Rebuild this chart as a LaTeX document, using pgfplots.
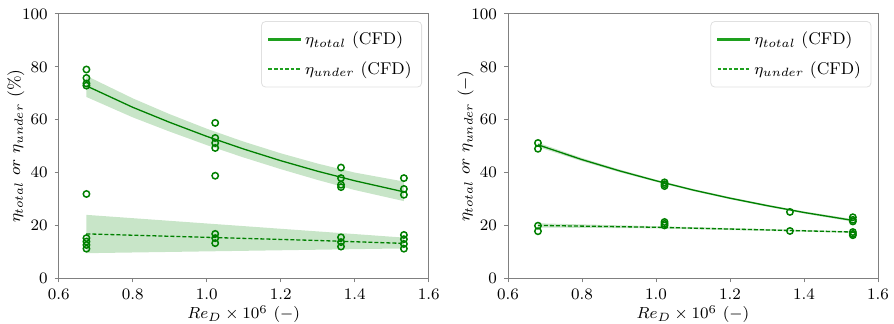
\documentclass[border=0pt]{standalone}
\usepackage{pgfplots}
\pgfplotsset{compat=1.18}
\usepgfplotslibrary{fillbetween}
\definecolor{mplgreen}{RGB}{0,128,0}
\definecolor{leggreen}{RGB}{30,160,30}
\definecolor{bandgreen}{RGB}{200,229,200}
\definecolor{framegray}{RGB}{128,128,128}
\pgfplotsset{
  myaxis/.style={
    scale only axis, width=185pt, height=132.15pt,
    xmin=0.6, xmax=1.6, ymin=0, ymax=100,
    xtick={0.6,0.8,1.0,1.2,1.4,1.6},
    ytick={0,20,40,60,80,100},
    xticklabel style={/pgf/number format/.cd, fixed, fixed zerofill, precision=1},
    font=\fontsize{8.5}{10}\selectfont,
    axis line style={framegray, line width=0.5pt},
    tick style={framegray, line width=0.5pt},
    tick align=outside, major tick length=2pt,
    xtick pos=left, ytick pos=left,
    xlabel={$Re_D \times 10^6$ $(-)$},
    xlabel style={yshift=4pt},
    ylabel shift=-8pt,
    legend style={at={(0.982,0.973)}, anchor=north east, rounded corners=2pt,
      fill=white, font=\fontsize{8.5}{10}\selectfont, row sep=3pt, inner xsep=3pt, inner ysep=3pt},
    every axis legend/.append style={draw=black!12},
    legend cell align=left,
    legend image code/.code={\draw[#1] (0pt,0pt) -- (16pt,0pt);},
  },
  solidimg/.style={legend image code/.code={\fill[leggreen, sharp corners] (0pt,-0.4pt) rectangle (16pt,0.4pt);}},
  pts/.style={only marks, mark=o, mark size=1.6pt, color=mplgreen, mark options={line width=0.75pt}},
}
\begin{document}
\begin{tikzpicture}
% ---------------- left ----------------
\begin{axis}[myaxis, ylabel={$\eta_{total}\ or\ \eta_{under}$ (\%)}]
\addlegendimage{solidimg}
\addlegendentry{$\eta_{total}$ (CFD)}
\addlegendimage{color=leggreen, line width=0.8pt, dash pattern=on 1.8pt off 1pt}
\addlegendentry{$\eta_{under}$ (CFD)}
\addplot[name path=tu, draw=none, forget plot] coordinates {(0.675,76.6)(0.8,68.1)(0.9,62.1)(1.0,56.6)(1.1,51.7)(1.2,47.3)(1.3,43.4)(1.4,40.0)(1.533,36.6)};
\addplot[name path=tl, draw=none, forget plot] coordinates {(0.675,68.6)(0.8,60.9)(0.9,55.5)(1.0,50.4)(1.1,45.7)(1.2,41.3)(1.3,37.2)(1.4,33.4)(1.533,29.2)};
\addplot[bandgreen, forget plot] fill between[of=tu and tl];
\addplot[name path=uu, draw=none, forget plot] coordinates {(0.675,24.0)(1.533,15.4)};
\addplot[name path=ul, draw=none, forget plot] coordinates {(0.675,9.5)(1.533,11.3)};
\addplot[bandgreen, forget plot] fill between[of=uu and ul];
\addplot[mplgreen, line width=0.65pt, forget plot] coordinates {(0.675,72.8)(0.8,64.7)(0.9,59.0)(1.0,53.7)(1.1,48.9)(1.2,44.5)(1.3,40.5)(1.4,36.9)(1.533,32.7)};
\addplot[mplgreen, line width=0.65pt, dash pattern=on 2pt off 1pt, forget plot] coordinates {(0.675,16.8)(1.0,15.5)(1.3,14.3)(1.533,13.2)};
\addplot[pts, forget plot] coordinates {
(0.675,79.0)(0.675,75.8)(0.675,73.7)(0.675,72.9)(0.675,31.9)
(1.023,58.8)(1.023,53.1)(1.023,51.2)(1.023,49.3)(1.023,38.8)
(1.363,41.9)(1.363,37.9)(1.363,35.4)(1.363,34.5)
(1.533,37.9)(1.533,33.8)(1.533,31.6)};
\addplot[pts, forget plot] coordinates {
(0.675,15.2)(0.675,13.9)(0.675,12.6)(0.675,11.2)
(1.023,16.8)(1.023,15.2)(1.023,13.3)
(1.363,15.5)(1.363,13.7)(1.363,12.0)
(1.533,16.4)(1.533,14.8)(1.533,13.0)(1.533,11.2)};
\end{axis}
% ---------------- right ----------------
\begin{axis}[myaxis, at={(224.65pt,0pt)}, ylabel={$\eta_{total}\ or\ \eta_{under}$ $(-)$}]
\addlegendimage{solidimg}
\addlegendentry{$\eta_{total}$ (CFD)}
\addlegendimage{color=leggreen, line width=0.8pt, dash pattern=on 1.8pt off 1pt}
\addlegendentry{$\eta_{under}$ (CFD)}
\addplot[name path=tu, draw=none, forget plot] coordinates {(0.681,51.3)(0.8,45.5)(0.9,41.2)(1.0,37.3)(1.1,33.8)(1.2,30.7)(1.3,27.9)(1.4,25.3)(1.532,22.4)};
\addplot[name path=tl, draw=none, forget plot] coordinates {(0.681,49.7)(0.8,44.3)(0.9,40.2)(1.0,36.5)(1.1,33.0)(1.2,29.9)(1.3,27.1)(1.4,24.5)(1.532,21.4)};
\addplot[bandgreen, forget plot] fill between[of=tu and tl];
\addplot[name path=uu, draw=none, forget plot] coordinates {(0.681,20.8)(1.0,19.7)(1.532,17.8)};
\addplot[name path=ul, draw=none, forget plot] coordinates {(0.681,19.2)(1.0,18.9)(1.532,17.2)};
\addplot[bandgreen, forget plot] fill between[of=uu and ul];
\addplot[mplgreen, line width=0.65pt, forget plot] coordinates {(0.681,50.5)(0.8,44.9)(0.9,40.7)(1.0,36.9)(1.1,33.4)(1.2,30.3)(1.3,27.5)(1.4,24.9)(1.532,21.9)};
\addplot[mplgreen, line width=0.65pt, dash pattern=on 2pt off 1pt, forget plot] coordinates {(0.681,20.0)(1.0,19.3)(1.3,18.3)(1.532,17.5)};
\addplot[pts, forget plot] coordinates {
(0.681,51.2)(0.681,49.0)
(1.023,36.3)(1.023,35.6)(1.023,34.9)
(1.362,25.1)
(1.532,23.1)(1.532,22.1)(1.532,21.5)};
\addplot[pts, forget plot] coordinates {
(0.681,19.9)(0.681,17.8)
(1.023,21.3)(1.023,20.6)(1.023,20.0)
(1.362,17.9)
(1.532,17.5)(1.532,16.8)(1.532,16.3)};
\end{axis}
\pgfresetboundingbox
\useasboundingbox (-29.35pt,-22.85pt) rectangle (417.65pt,139.15pt);
\end{tikzpicture}
\end{document}
